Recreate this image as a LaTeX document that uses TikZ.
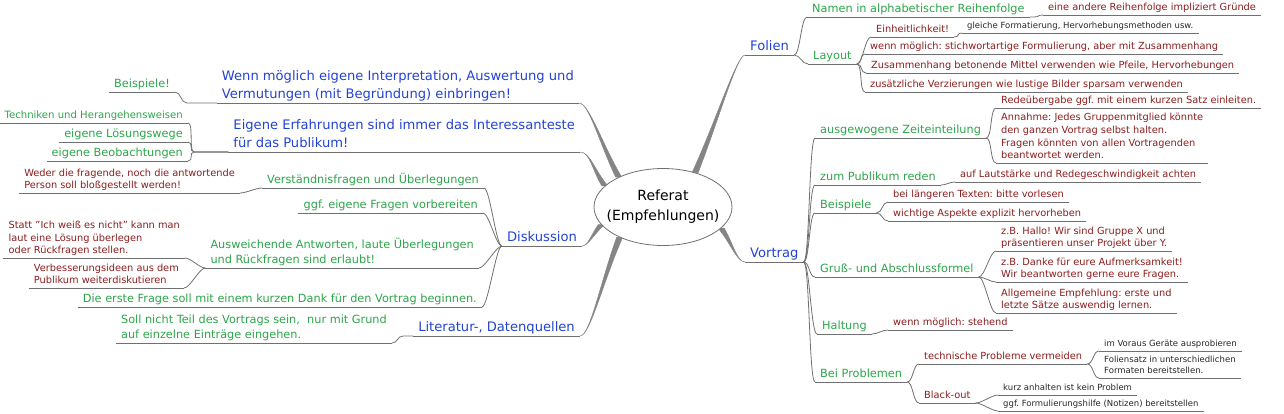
\documentclass[tikz,border=0pt]{standalone}
\usepackage{fontspec}
\setmainfont{DejaVu Sans}
\frenchspacing
\usetikzlibrary{calc,shapes.geometric}
\definecolor{topic}{HTML}{2242D2}
\definecolor{idea}{HTML}{2CA54A}
\definecolor{detail}{HTML}{8C1C1C}
\definecolor{remark}{HTML}{262626}
\definecolor{wire}{HTML}{707070}
\definecolor{stem}{HTML}{858585}
\pgfdeclarelayer{back}
\pgfsetlayers{back,main}
% thin branch: parent end -> child start (right / left side)
\newcommand\twigR[3][0]{\draw[twig] (#2) -- ([xshift=#1pt]#2) .. controls ([xshift=#1pt+6pt]#2) and ([xshift=-6pt]#3) .. (#3);}
\newcommand\twigL[3][0]{\draw[twig] (#2) -- ([xshift=-#1pt]#2) .. controls ([xshift=-#1pt-6pt]#2) and ([xshift=6pt]#3) .. (#3);}
% thick tapered branch from the centre
\newcommand\trunk[3]{\fill[stem,draw=stem,line width=0.5pt] ($(#1)+(-3,0)$) .. controls ($(#1)!0.45!(#2)+(-1.2,0)$) and ($(#2)+(#3,0)$) .. (#2) .. controls ($(#2)+(#3,0)$) and ($(#1)!0.45!(#2)+(1.2,0)$) .. ($(#1)+(3,0)$) -- cycle;}

\begin{document}
\begin{tikzpicture}[x=1pt,y=-1pt,
  twig/.style={draw=wire,line width=0.8pt},
  item/.style={inner xsep=5pt,inner ysep=1.5pt,text depth=0.25em,align=left},
  hub/.style={ellipse,draw=wire,fill=white,line width=0.8pt,minimum width=138pt,minimum height=77pt,inner xsep=-14pt,inner ysep=0pt,align=center,font=\fontsize{14}{20}\selectfont},
  topic/.style={item,text=topic,font=\fontsize{13.1}{18}\selectfont},
  idea/.style={item,text=idea,font=\fontsize{11.3}{15.5}\selectfont},
  detail/.style={item,text=detail,font=\fontsize{9.8}{12.8}\selectfont},
  remark/.style={item,text=remark,font=\fontsize{8.5}{11}\selectfont}]
\useasboundingbox (0,0) rectangle (1284,413);
\node[hub] (hub) at (663,207) {Referat\\(Empfehlungen)};

% Folien
\node[topic,anchor=south west] (folien) at (745,55) {Folien};
\node[idea,anchor=south west] (namen) at (807,17) {Namen in alphabetischer Reihenfolge};
\node[detail,anchor=south west] (reihe) at (1043,15) {eine andere Reihenfolge impliziert Gründe};
\node[idea,anchor=south west] (layout) at (808,64) {Layout};
\node[detail,anchor=south west] (einheit) at (871,37) {Einheitlichkeit!};
\node[remark,anchor=south west] (format) at (962,33) {gleiche Formatierung, Hervorhebungsmethoden usw.};
\node[detail,anchor=south west] (stichwort) at (865,54) {wenn möglich: stichwortartige Formulierung, aber mit Zusammenhang};
\node[detail,anchor=south west] (betonen) at (866,73) {Zusammenhang betonende Mittel verwenden wie Pfeile, Hervorhebungen};
\node[detail,anchor=south west] (verzier) at (865,92) {zusätzliche Verzierungen wie lustige Bilder sparsam verwenden};

% Vortrag
\node[topic,anchor=south west] (vortrag) at (745,262) {Vortrag};
\node[idea,anchor=south west] (zeit) at (815,138) {ausgewogene Zeiteinteilung};
\node[detail,anchor=south west] (uebergabe) at (996,108) {Redeübergabe ggf. mit einem kurzen Satz einleiten.};
\node[detail,anchor=south west] (annahme) at (996,163) {Annahme: Jedes Gruppenmitglied könnte\\den ganzen Vortrag selbst halten.\\Fragen könnten von allen Vortragenden\\beantwortet werden.};
\node[idea,anchor=south west] (publikum) at (815,185) {zum Publikum reden};
\node[detail,anchor=south west] (laut) at (955,182) {auf Lautstärke und Redegeschwindigkeit achten};
\node[idea,anchor=south west] (beispiele) at (815,213) {Beispiele};
\node[detail,anchor=south west] (vorlesen) at (888,202) {bei längeren Texten: bitte vorlesen};
\node[detail,anchor=south west] (aspekte) at (888,221) {wichtige Aspekte explizit hervorheben};
\node[idea,anchor=south west] (gruss) at (815,277) {Gruß- und Abschlussformel};
\node[detail,anchor=south west] (hallo) at (996,251) {z.B. Hallo! Wir sind Gruppe X und\\präsentieren unser Projekt über Y.};
\node[detail,anchor=south west] (danke) at (996,282) {z.B. Danke für eure Aufmerksamkeit!\\Wir beantworten gerne eure Fragen.};
\node[detail,anchor=south west] (auswendig) at (996,313) {Allgemeine Empfehlung: erste und\\letzte Sätze auswendig lernen.};
\node[idea,anchor=south west] (haltung) at (817,334) {Haltung};
\node[detail,anchor=south west] (stehend) at (888,330) {wenn möglich: stehend};
\node[idea,anchor=south west] (probleme) at (815,382) {Bei Problemen};
\node[detail,anchor=south west] (technik) at (919,364) {technische Probleme vermeiden};
\node[remark,anchor=south west] (geraete) at (1099,351) {im Voraus Geräte ausprobieren};
\node[remark,anchor=south west] (formate) at (1099,378) {Foliensatz in unterschiedlichen\\Formaten bereitstellen.};
\node[detail,anchor=south west] (blackout) at (919,403) {Black-out};
\node[remark,anchor=south west] (anhalten) at (998,395) {kurz anhalten ist kein Problem};
\node[remark,anchor=south west] (notizen) at (998,411) {ggf. Formulierungshilfe (Notizen) bereitstellen};

% left half
\node[topic,anchor=south east] (eigen) at (579,103) {Wenn möglich eigene Interpretation, Auswertung und\\Vermutungen (mit Begründung) einbringen!};
\node[idea,anchor=south east] (bsp) at (175,92) {Beispiele!};
\node[topic,anchor=south east] (erfahrung) at (580,152) {Eigene Erfahrungen sind immer das Interessanteste\\für das Publikum!};
\node[idea,anchor=south east,font=\fontsize{10.1}{15}\selectfont] (techniken) at (188,123) {Techniken und Herangehensweisen};
\node[idea,anchor=south east] (loesung) at (188,142) {eigene Lösungswege};
\node[idea,anchor=south east] (beobacht) at (188,161) {eigene Beobachtungen};
\node[topic,anchor=south east] (diskussion) at (582,246) {Diskussion};
\node[idea,anchor=south east] (verstaendnis) at (484,188) {Verständnisfragen und Überlegungen};
\node[detail,anchor=south east] (weder) at (240,193) {Weder die fragende, noch die antwortende\\Person soll bloßgestellt werden!};
\node[idea,anchor=south east] (vorbereiten) at (483,213) {ggf. eigene Fragen vorbereiten};
\node[idea,anchor=south east] (ausweichen) at (479,268) {Ausweichende Antworten, laute Überlegungen\\und Rückfragen sind erlaubt!};
\node[detail,anchor=south east] (statt) at (185,258) {Statt "Ich weiß es nicht" kann man\\laut eine Lösung überlegen\\oder Rückfragen stellen.};
\node[detail,anchor=south east] (verbessern) at (184,288) {Verbesserungsideen aus dem\\Publikum weiterdiskutieren};
\node[idea,anchor=south east] (dank) at (482,307) {Die erste Frage soll mit einem kurzen Dank für den Vortrag beginnen.};
\node[topic,anchor=south east] (quellen) at (580,336) {Literatur-, Datenquellen};
\node[idea,anchor=south east] (grund) at (392,343) {Soll nicht Teil des Vortrags sein,\ \ nur mit Grund\\auf einzelne Einträge eingehen.};

% underlines
\foreach \n in {folien,namen,reihe,layout,einheit,format,stichwort,betonen,verzier,
  vortrag,zeit,uebergabe,annahme,publikum,laut,beispiele,vorlesen,aspekte,gruss,hallo,danke,
  auswendig,haltung,stehend,probleme,technik,geraete,formate,blackout,anhalten,notizen,
  eigen,bsp,erfahrung,techniken,loesung,beobacht,diskussion,verstaendnis,weder,vorbereiten,
  ausweichen,statt,verbessern,dank,quellen,grund}
  \draw[twig] (\n.south west) -- (\n.south east);

% main branches
\begin{pgfonlayer}{back}
\trunk{hub.47}{folien.south west}{-8}
\trunk{hub.-20}{vortrag.south west}{-8}
\trunk{hub.146}{eigen.south east}{10}
\trunk{hub.160}{erfahrung.south east}{10}
\trunk{hub.196}{diskussion.south east}{6}
\trunk{hub.215}{quellen.south east}{10}
\end{pgfonlayer}

% right side branches
\twigR{folien.south east}{namen.south west}
\twigR{folien.south east}{layout.south west}
\twigR[4]{namen.south east}{reihe.south west}
\foreach \c in {einheit,stichwort,betonen,verzier} \twigR{layout.south east}{\c.south west};
\twigR{einheit.south east}{format.south west}
\foreach \c in {zeit,publikum,beispiele,gruss,haltung,probleme} \twigR{vortrag.south east}{\c.south west};
\foreach \c in {uebergabe,annahme} \twigR{zeit.south east}{\c.south west};
\twigR{publikum.south east}{laut.south west}
\foreach \c in {vorlesen,aspekte} \twigR{beispiele.south east}{\c.south west};
\foreach \c in {hallo,danke,auswendig} \twigR{gruss.south east}{\c.south west};
\twigR{haltung.south east}{stehend.south west}
\foreach \c in {technik,blackout} \twigR{probleme.south east}{\c.south west};
\foreach \c in {geraete,formate} \twigR{technik.south east}{\c.south west};
\foreach \c in {anhalten,notizen} \twigR{blackout.south east}{\c.south west};

% left side branches
\twigL[30]{eigen.south west}{bsp.south east}
\foreach \c in {techniken,loesung,beobacht} \twigL[34]{erfahrung.south west}{\c.south east};
\foreach \c in {verstaendnis,vorbereiten,ausweichen,dank} \twigL{diskussion.south west}{\c.south east};
\twigL{verstaendnis.south west}{weder.south east}
\foreach \c in {statt,verbessern} \twigL{ausweichen.south west}{\c.south east};
\twigL[10]{quellen.south west}{grund.south east}
\end{tikzpicture}
\end{document}
